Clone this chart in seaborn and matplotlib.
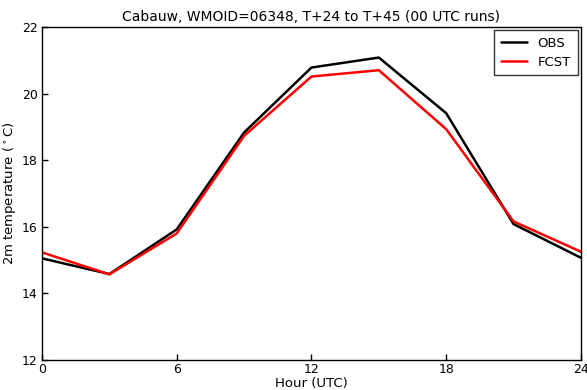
import matplotlib
matplotlib.use("Agg")
import matplotlib.pyplot as plt
import seaborn as sns
import pandas as pd

hours = [0, 3, 6, 9, 12, 15, 18, 21, 24]
obs = [15.05, 14.58, 15.92, 18.83, 20.78, 21.08, 19.41, 16.08, 15.07]
fcst = [15.23, 14.57, 15.80, 18.73, 20.51, 20.70, 18.93, 16.16, 15.25]

df = pd.DataFrame({
    "hour": hours * 2,
    "temp": obs + fcst,
    "series": ["OBS"] * len(hours) + ["FCST"] * len(hours),
})

sns.set_style("white")
plt.rcParams["font.family"] = ["DejaVu Sans"]
plt.rcParams["text.color"] = "black"
plt.rcParams["axes.labelcolor"] = "black"
plt.rcParams["xtick.color"] = "black"
plt.rcParams["ytick.color"] = "black"

fig = plt.figure(figsize=(5.87, 3.90), dpi=100)
ax = fig.add_axes([0.0716, 0.077, 0.918, 0.854])

sns.lineplot(data=df, x="hour", y="temp", hue="series",
             palette={"OBS": "black", "FCST": "red"}, linewidth=1.8, ax=ax)

ax.set_xlim(0, 24)
ax.set_ylim(12, 22)
ax.set_xticks([0, 6, 12, 18, 24])
ax.set_yticks([12, 14, 16, 18, 20, 22])
ax.tick_params(direction="in", length=4, width=1, labelsize=9,
               top=False, right=False, bottom=True, left=True, pad=3)
ax.tick_params(axis="x", pad=2)
for s in ax.spines.values():
    s.set_color("black")
    s.set_linewidth(1)

ax.set_xlabel("Hour (UTC)", fontsize=9.5, labelpad=1)
ax.set_ylabel("2m temperature ($^\\circ$C)", fontsize=9.5, labelpad=3)
ax.set_title("Cabauw, WMOID=06348, T+24 to T+45 (00 UTC runs)", fontsize=10, pad=4)

leg = ax.legend(loc="upper right", fontsize=9.5, frameon=True, fancybox=False,
                handlelength=2.0, borderpad=0.5, labelspacing=0.45,
                borderaxespad=0.25)
leg.get_frame().set_edgecolor("black")
leg.get_frame().set_linewidth(1)

fig.savefig("out.png", dpi=100)
